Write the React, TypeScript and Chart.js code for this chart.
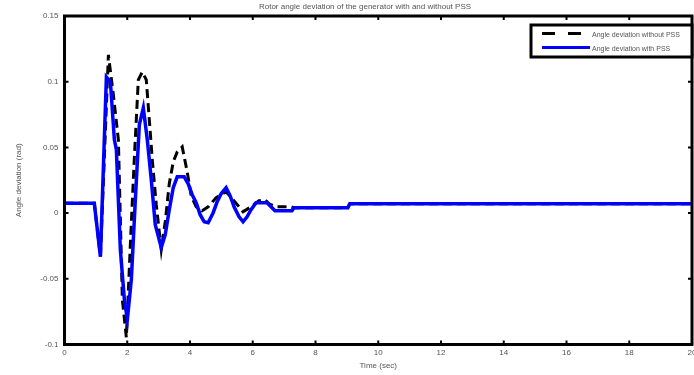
import React, { useEffect, useRef } from "react";
import { Chart, registerables } from "chart.js";

Chart.register(...registerables);

const TITLE = "Rotor angle deviation of the generator with and without PSS";
const X_LABEL = "Time (sec)";
const Y_LABEL = "Angle deviation (rad)";
const SERIES_LABELS = ["Angle deviation without PSS", "Angle deviation with PSS"];

const X_TICKS = [0, 2, 4, 6, 8, 10, 12, 14, 16, 18, 20];
const Y_TICKS = [-0.1, -0.05, 0, 0.05, 0.1, 0.15];

const TIME_NO_PSS = [0, 0.95, 1.145, 1.399, 1.558, 1.717, 1.844, 1.971, 2.099, 2.226, 2.353, 2.48, 2.607, 2.703, 2.798, 2.925, 3.084, 3.211, 3.339, 3.466, 3.593, 3.752, 3.911, 4.038, 4.197, 4.388, 4.579, 4.833, 5.151, 5.374, 5.564, 5.692, 5.946, 6.2, 6.391, 6.518, 6.741, 7.218, 7.313, 9.03, 9.094, 20];
const VALUE_NO_PSS = [0.0075, 0.0075, -0.0332, 0.1204, 0.09, 0.0558, -0.0658, -0.0947, -0.024, 0.0421, 0.1014, 0.1074, 0.1014, 0.071, 0.0406, 0.0064, -0.0278, -0.0066, 0.0223, 0.039, 0.0466, 0.0504, 0.0314, 0.0132, 0.0048, 0.0018, 0.0048, 0.0117, 0.0162, 0.0102, 0.0048, 0.001, 0.0048, 0.0094, 0.0102, 0.0071, 0.0048, 0.0048, 0.0041, 0.0041, 0.0071, 0.0071];

const TIME_PSS = [0, 0.95, 1.145, 1.335, 1.463, 1.59, 1.653, 1.78, 1.908, 2.003, 2.13, 2.258, 2.385, 2.512, 2.639, 2.766, 2.893, 3.084, 3.211, 3.339, 3.466, 3.593, 3.816, 3.943, 4.07, 4.197, 4.324, 4.452, 4.579, 4.738, 4.865, 4.992, 5.151, 5.278, 5.405, 5.564, 5.692, 5.819, 5.946, 6.105, 6.455, 6.582, 6.709, 7.25, 7.313, 9.03, 9.094, 20];
const VALUE_PSS = [0.0075, 0.0075, -0.0332, 0.1036, 0.1, 0.0558, 0.0482, -0.0278, -0.0658, -0.081, -0.0506, 0.0102, 0.0672, 0.0801, 0.0558, 0.0254, -0.0088, -0.0263, -0.0164, 0.0026, 0.0193, 0.0276, 0.0276, 0.0223, 0.014, 0.0079, -0.0012, -0.0066, -0.0073, 0.0003, 0.0086, 0.0147, 0.0193, 0.0132, 0.0048, -0.0028, -0.0066, -0.0028, 0.0026, 0.0079, 0.0079, 0.0048, 0.0018, 0.0018, 0.0041, 0.0041, 0.0071, 0.0071];

const TEXT_COLOR = "#555";
const FONT = "Arial, 'Liberation Sans', sans-serif";

const zip = (xs: number[], ys: number[]) => xs.map((x, i) => ({ x, y: ys[i] }));

const framePlugin = {
  id: "matlabFrame",
  afterDraw(chart: any) {
    const { ctx, chartArea } = chart;
    const { left, right, top, bottom } = chartArea;
    const xs = chart.scales.x;
    const ys = chart.scales.y;
    ctx.save();
    ctx.strokeStyle = "#000";
    ctx.lineWidth = 2;
    const tl = 4;
    xs.ticks.forEach((t: any) => {
      const p = xs.getPixelForValue(t.value);
      ctx.beginPath();
      ctx.moveTo(p, bottom);
      ctx.lineTo(p, bottom - tl);
      ctx.moveTo(p, top);
      ctx.lineTo(p, top + tl);
      ctx.stroke();
    });
    ys.ticks.forEach((t: any) => {
      const p = ys.getPixelForValue(t.value);
      ctx.beginPath();
      ctx.moveTo(left, p);
      ctx.lineTo(left + tl, p);
      ctx.moveTo(right, p);
      ctx.lineTo(right - tl, p);
      ctx.stroke();
    });
    ctx.lineWidth = 3;
    ctx.strokeRect(left, top, right - left, bottom - top);

    // title
    ctx.fillStyle = TEXT_COLOR;
    ctx.font = `8px ${FONT}`;
    ctx.textAlign = "center";
    ctx.textBaseline = "middle";
    ctx.fillText(TITLE, 365, 7);

    // legend
    const lx = 531, ly = 25, lw = right - 531, lh = 32;
    ctx.fillStyle = "#fff";
    ctx.fillRect(lx, ly, lw, lh);
    ctx.strokeStyle = "#000";
    ctx.lineWidth = 3;
    ctx.strokeRect(lx, ly, lw, lh);
    const ds = chart.data.datasets;
    const rows = [33.5, 47.5];
    ds.forEach((d: any, i: number) => {
      ctx.beginPath();
      ctx.strokeStyle = d.borderColor;
      ctx.lineWidth = 3;
      ctx.setLineDash(i === 0 ? [13, 13] : []);
      ctx.moveTo(542, rows[i]);
      ctx.lineTo(590, rows[i]);
      ctx.stroke();
      ctx.setLineDash([]);
      ctx.fillStyle = TEXT_COLOR;
      ctx.font = `7px ${FONT}`;
      ctx.textAlign = "left";
      ctx.textBaseline = "middle";
      ctx.fillText(d.label, 592, rows[i] + 1.5);
    });
    ctx.restore();
  },
};

export default function App() {
  const ref = useRef<HTMLCanvasElement | null>(null);
  useEffect(() => {
    if (!ref.current) return;
    const chart = new Chart(ref.current, {
      type: "line",
      data: {
        datasets: [
          {
            label: SERIES_LABELS[0],
            data: zip(TIME_NO_PSS, VALUE_NO_PSS),
            borderColor: "#000000",
            borderWidth: 3,
            borderDash: [9, 5],
            pointRadius: 0,
            tension: 0,
            order: 1,
          },
          {
            label: SERIES_LABELS[1],
            data: zip(TIME_PSS, VALUE_PSS),
            borderColor: "#0000ff",
            borderWidth: 3.5,
            pointRadius: 0,
            tension: 0,
            order: 0,
          },
        ],
      },
      options: {
        responsive: false,
        animation: false,
        devicePixelRatio: 1,
        layout: { padding: { top: 16, right: 2, left: 0, bottom: 0 } },
        plugins: {
          legend: { display: false },
          tooltip: { enabled: false },
          title: { display: false },
        },
        scales: {
          x: {
            type: "linear",
            min: 0,
            max: 20,
            afterBuildTicks: (s: any) => {
              s.ticks = X_TICKS.map((value) => ({ value }));
            },
            afterFit: (s: any) => {
              s.height = 30.5;
              s.paddingLeft = 0;
              s.paddingRight = 0;
            },
            grid: { display: false, drawTicks: false },
            border: { display: false },
            ticks: {
              autoSkip: false,
              maxRotation: 0,
              padding: 3,
              color: TEXT_COLOR,
              font: { size: 8, family: FONT },
              callback: (v: any) => String(v),
            },
            title: {
              display: true,
              text: X_LABEL,
              color: TEXT_COLOR,
              font: { size: 8, family: FONT },
              padding: { top: 0, bottom: 4 },
            },
          },
          y: {
            type: "linear",
            min: -0.1,
            max: 0.15,
            afterBuildTicks: (s: any) => {
              s.ticks = Y_TICKS.map((value) => ({ value }));
            },
            afterFit: (s: any) => {
              s.width = 64.5;
              s.paddingTop = 0;
              s.paddingBottom = 0;
            },
            grid: { display: false, drawTicks: false },
            border: { display: false },
            ticks: {
              autoSkip: false,
              padding: 6,
              color: TEXT_COLOR,
              font: { size: 8, family: FONT },
              callback: (v: any) => String(Math.round(v * 100) / 100),
            },
            title: {
              display: true,
              text: Y_LABEL,
              color: TEXT_COLOR,
              font: { size: 8, family: FONT },
              padding: { top: 14, bottom: 0 },
            },
          },
        },
      },
      plugins: [framePlugin],
    } as any);
    return () => chart.destroy();
  }, []);
  return (
    <div style={{ position: "absolute", left: 0, top: 0, width: 694, height: 375, background: "#fff" }}>
      <canvas ref={ref} width={694} height={375} />
    </div>
  );
}
